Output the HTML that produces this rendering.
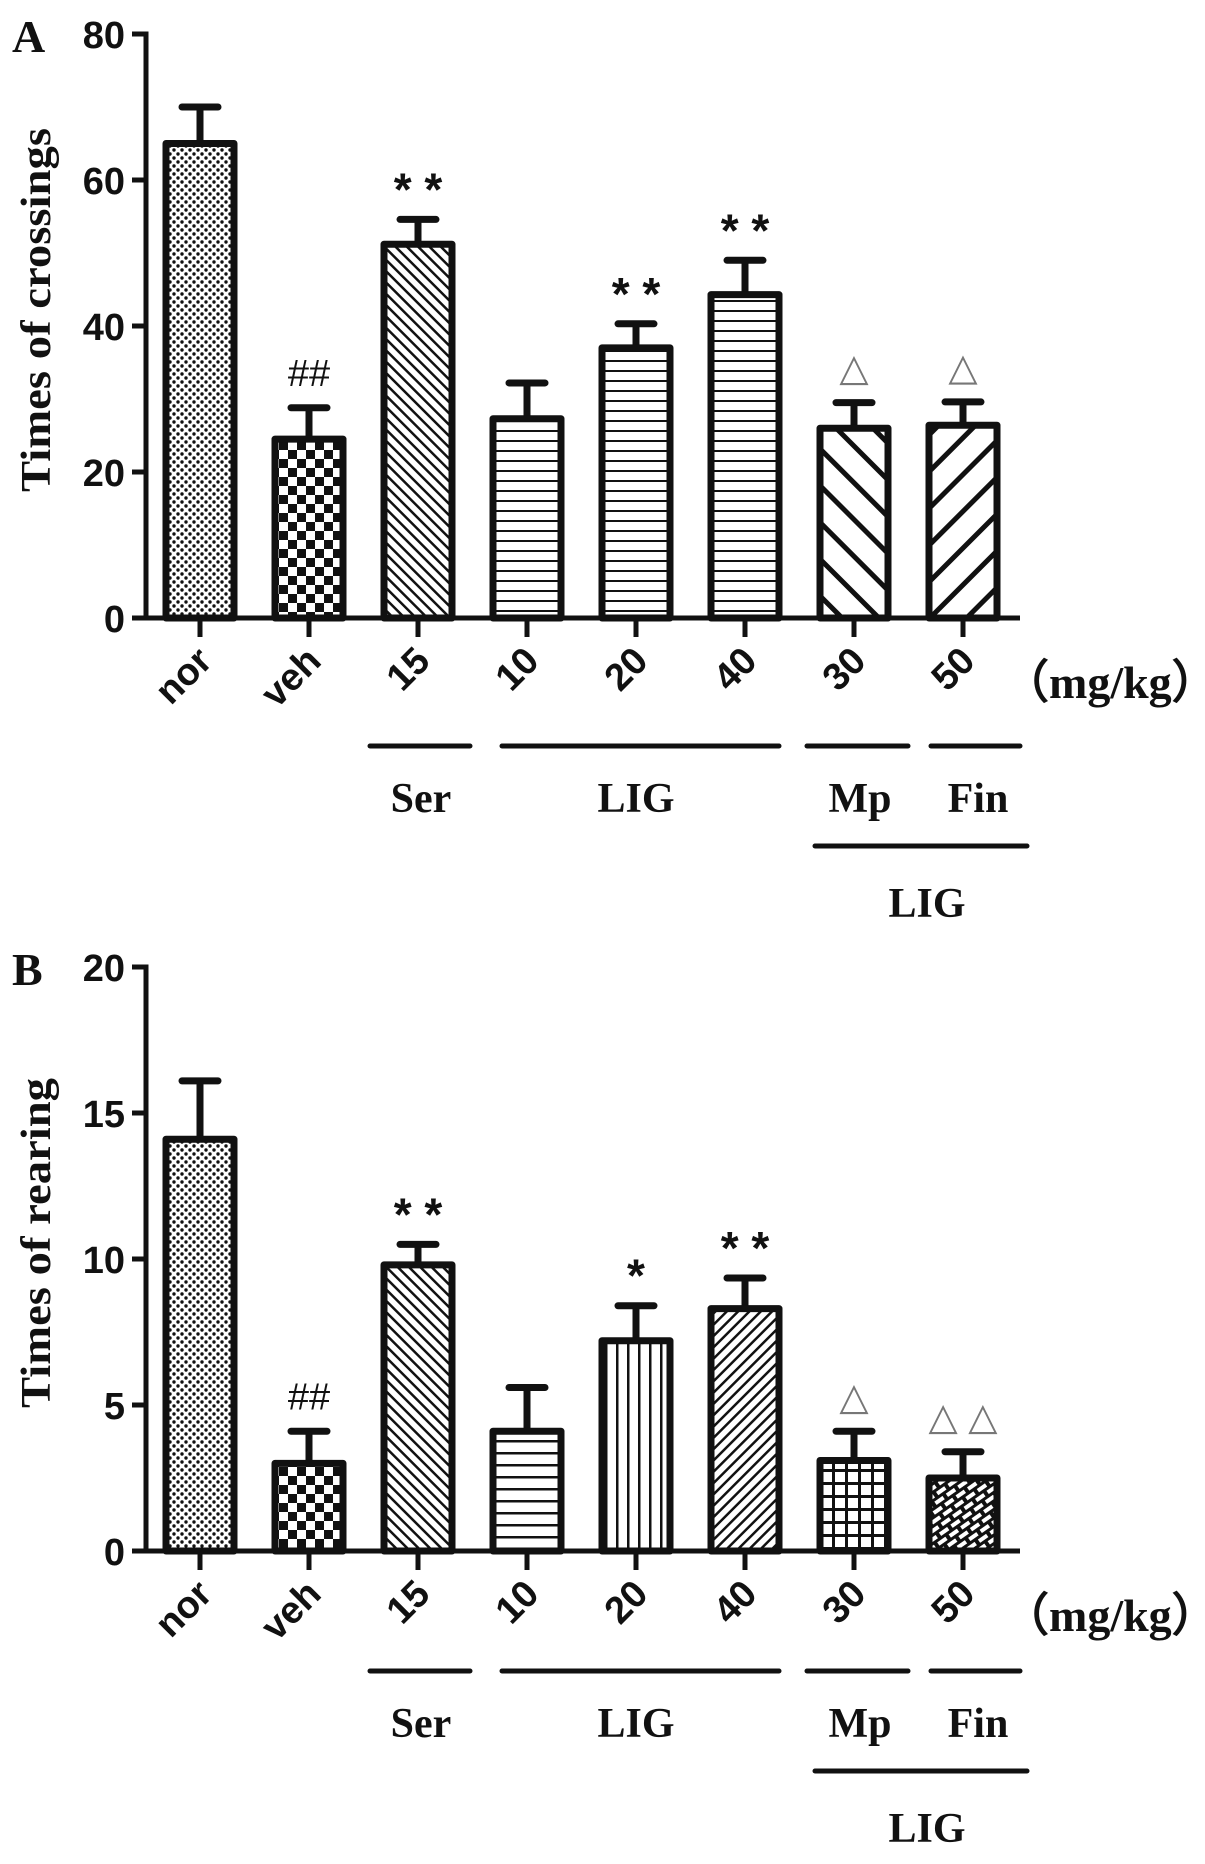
<!DOCTYPE html>
<html><head><meta charset="utf-8">
<style>
html,body{margin:0;padding:0;background:#fff;}
svg{display:block;}
.tick{font-family:"Liberation Sans",Arial,sans-serif;font-weight:bold;font-size:38px;fill:#111;}
.serif{font-family:"Liberation Serif","Times New Roman",serif;font-weight:bold;fill:#111;}
</style></head>
<body>
<svg id="fig" width="1205" height="1864" viewBox="0 0 1205 1864" xmlns="http://www.w3.org/2000/svg">
<defs>
<pattern id="pDots" width="8" height="8" patternUnits="userSpaceOnUse"><rect width="8" height="8" fill="#fff"/><circle cx="2" cy="2" r="1.7" fill="#111"/><circle cx="6" cy="6" r="1.7" fill="#111"/></pattern>
<pattern id="pCheck" width="18" height="18" patternUnits="userSpaceOnUse"><rect width="18" height="18" fill="#fff"/><rect x="0" y="0" width="9" height="9" fill="#111"/><rect x="9" y="9" width="9" height="9" fill="#111"/></pattern>
<pattern id="pFineBack" width="8" height="8" patternUnits="userSpaceOnUse" patternTransform="rotate(-45)"><rect width="8" height="8" fill="#fff"/><rect x="0" y="0" width="2.5" height="8" fill="#111"/></pattern>
<pattern id="pFineFwd" width="8" height="8" patternUnits="userSpaceOnUse" patternTransform="rotate(45)"><rect width="8" height="8" fill="#fff"/><rect x="0" y="0" width="2.5" height="8" fill="#111"/></pattern>
<pattern id="pHoriz" width="10" height="10" patternUnits="userSpaceOnUse"><rect width="10" height="10" fill="#fff"/><rect x="0" y="0" width="10" height="2" fill="#111"/></pattern>
<pattern id="pHorizB" width="12" height="12" patternUnits="userSpaceOnUse"><rect width="12" height="12" fill="#fff"/><rect x="0" y="0" width="12" height="2.5" fill="#111"/></pattern>
<pattern id="pVert" width="11" height="11" patternUnits="userSpaceOnUse"><rect width="11" height="11" fill="#fff"/><rect x="0" y="0" width="2.5" height="11" fill="#111"/></pattern>
<pattern id="pWideBack" width="26" height="26" patternUnits="userSpaceOnUse" patternTransform="rotate(-45)"><rect width="26" height="26" fill="#fff"/><rect x="0" y="0" width="5" height="26" fill="#111"/></pattern>
<pattern id="pWideFwd" width="26" height="26" patternUnits="userSpaceOnUse" patternTransform="rotate(45)"><rect width="26" height="26" fill="#fff"/><rect x="0" y="0" width="5" height="26" fill="#111"/></pattern>
<pattern id="pGrid" width="13" height="13" patternUnits="userSpaceOnUse"><rect width="13" height="13" fill="#fff"/><rect x="0" y="0" width="3" height="13" fill="#111"/><rect x="0" y="0" width="13" height="3" fill="#111"/></pattern>
<pattern id="pWeave" width="14" height="14" patternUnits="userSpaceOnUse" patternTransform="rotate(-35)"><rect width="14" height="14" fill="#111"/><rect x="2" y="2" width="10" height="4" fill="#fff"/><rect x="9" y="9" width="10" height="4" fill="#fff"/><rect x="-5" y="9" width="10" height="4" fill="#fff"/></pattern>
</defs>
<g id="chartA"></g>
<g id="chartB"></g>
</svg>
<script>
const categories = ["nor","veh","15","10","20","40","30","50"];
const crossMean = [65, 24.5, 51.2, 27.3, 37, 44.3, 26, 26.4];
const crossErr  = [70, 28.8, 54.6, 32.2, 40.3, 49, 29.5, 29.6];
const crossTicks = [0, 20, 40, 60, 80];
const crossMarks = ["", "##", "* *", "", "* *", "* *", "△", "△"];
const rearMean = [14.1, 3, 9.8, 4.1, 7.2, 8.3, 3.1, 2.5];
const rearErr  = [16.1, 4.1, 10.5, 5.6, 8.4, 9.35, 4.1, 3.4];
const rearTicks = [0, 5, 10, 15, 20];
const rearMarks = ["", "##", "* *", "", "*", "* *", "△", "△ △"];
const fillsA = ["pDots","pCheck","pFineBack","pHoriz","pHoriz","pHoriz","pWideBack","pWideFwd"];
const fillsB = ["pDots","pCheck","pFineBack","pHorizB","pVert","pFineFwd","pGrid","pWeave"];

const NS = "http://www.w3.org/2000/svg";
function mk(parent, tag, attrs, text){
  const e = document.createElementNS(NS, tag);
  for (const k in attrs) e.setAttribute(k, attrs[k]);
  if (text !== undefined) e.textContent = text;
  parent.appendChild(e);
  return e;
}
function xPos(i){ return 200 + 109 * i; }

function drawPanel(g, off, bOff, yMax, ticks, mean, err, marks, fills, letter, title, titleLen){
  const y0 = 618 + off, yTop = 34 + off;
  const yScale = v => y0 - (v / yMax) * (y0 - yTop);
  const L = mk(g, "text", {x: 12, y: 52 + off, class: "serif", "font-size": 46}, letter);
  
  
  const t = mk(g, "text", {x: 0, y: 0, class: "serif", "font-size": 42, "text-anchor": "middle", textLength: titleLen, lengthAdjust: "spacingAndGlyphs", transform: `translate(50,${310 + off}) rotate(-90)`}, title);
  
  
  for (let i = 0; i < categories.length; i++){
    const cx = xPos(i), top = yScale(mean[i]), et = yScale(err[i]);
    const eb = mk(g, "path", {d: `M${cx} ${top} V${et} M${cx-18} ${et} H${cx+18}`, stroke: "#111", "stroke-width": 7, "stroke-linecap": "round", fill: "none"});
    
    
    const r = mk(g, "rect", {x: cx - 34, y: top, width: 68, height: y0 - top, fill: `url(#${fills[i]})`, stroke: "#111", "stroke-width": 7, "stroke-linejoin": "round"});
    
    
    if (marks[i]){
      const tri = marks[i].includes("△");
      const star = marks[i].includes("*");
      const m = mk(g, "text", {x: cx, y: et - (tri ? 22 : star ? 14 : 22), "text-anchor": "middle", "font-family": '"Liberation Sans","DejaVu Sans",sans-serif', "font-weight": star ? "bold" : "normal", "font-size": tri ? 38 : star ? 46 : 38, fill: tri ? "#777" : "#111"}, marks[i]);
      
      
    }
    const tk = mk(g, "line", {x1: cx, y1: y0, x2: cx, y2: y0 + 19, stroke: "#111", "stroke-width": 5});
    
    
    const lb = mk(g, "text", {x: 0, y: 0, class: "tick", "font-size": 36, "text-anchor": "end", transform: `translate(${cx + 14},${y0 + 45}) rotate(-45)`}, categories[i]);
    
    
  }
  const ax = mk(g, "path", {d: `M134 ${yTop} H146 V${y0} H1020`, stroke: "#111", "stroke-width": 5, fill: "none"});
  
  
  for (const v of ticks){
    const y = yScale(v);
    const tl = mk(g, "line", {x1: 132, y1: y, x2: 146, y2: y, stroke: "#111", "stroke-width": 5});
    
    
    const tx = mk(g, "text", {x: 125, y: y + 14, class: "tick", "text-anchor": "end"}, String(v));
    
    
  }
  const unit = mk(g, "text", {x: 1003, y: off + 698, class: "serif", "font-size": 46}, "（mg/kg）");
  
  
  const bo = off + bOff;
  const br = [[370,470,"Ser",421],[502,779,"LIG",636],[807,908,"Mp",860],[931,1020,"Fin",978]];
  for (const b of br){
    const ln = mk(g, "line", {x1: b[0], y1: bo + 746, x2: b[1], y2: bo + 746, stroke: "#111", "stroke-width": 5, "stroke-linecap": "round"});
    
    
    const tx = mk(g, "text", {x: b[3], y: bo + 812, class: "serif", "font-size": 42, "text-anchor": "middle"}, b[2]);
    
    
  }
  const l2 = mk(g, "line", {x1: 815, y1: bo + 846, x2: 1027, y2: bo + 846, stroke: "#111", "stroke-width": 5, "stroke-linecap": "round"});
  
  
  const t2 = mk(g, "text", {x: 927, y: bo + 917, class: "serif", "font-size": 42, "text-anchor": "middle"}, "LIG");
  
  
}
drawPanel(document.getElementById("chartA"), 0, 0, 80, crossTicks, crossMean, crossErr, crossMarks, fillsA, "A", "Times of crossings", 364);
drawPanel(document.getElementById("chartB"), 933, -8, 20, rearTicks, rearMean, rearErr, rearMarks, fillsB, "B", "Times of rearing", 330);
</script>
</body></html>
